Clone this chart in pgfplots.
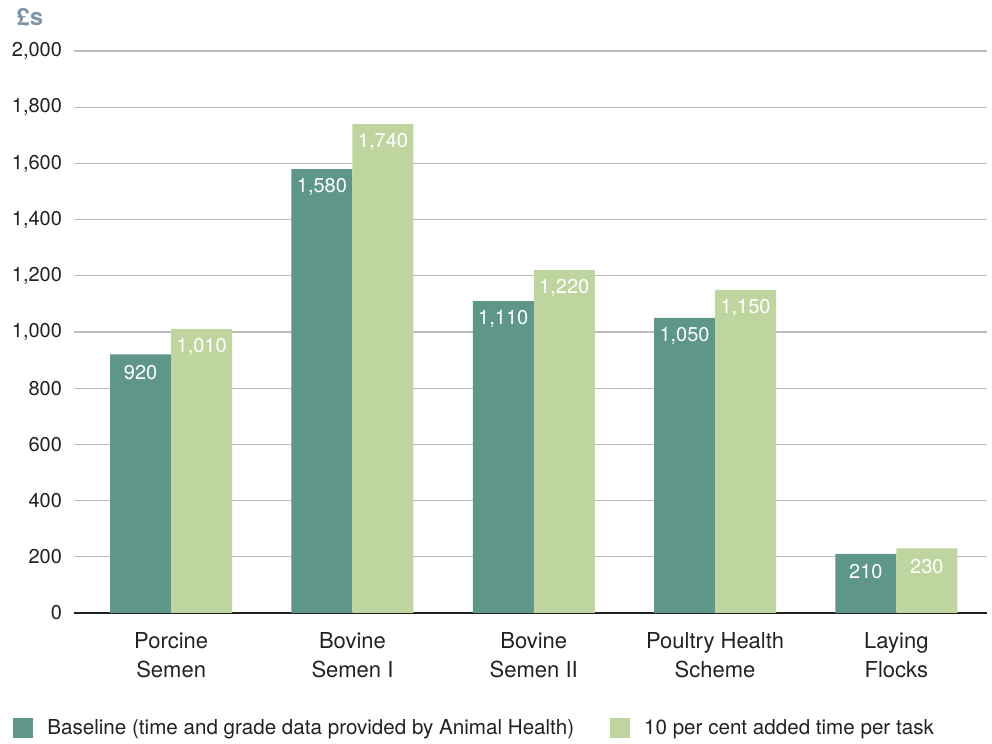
\documentclass[border=0pt]{standalone}
\usepackage{pgfplots}
\pgfplotsset{compat=1.18}
\usepackage{fontspec}
\setmainfont{TeX Gyre Heros}

\definecolor{baseline}{HTML}{5F968A}
\definecolor{added}{HTML}{BED5A0}
\definecolor{gridgray}{HTML}{BDBDBD}
\definecolor{unitblue}{HTML}{7F96AA}
\definecolor{textdark}{HTML}{222222}

\begin{document}
\begin{tikzpicture}
\useasboundingbox (-37pt,-65.5pt) rectangle (459pt,306.5pt);
\begin{axis}[
  scale only axis,
  clip=false,
  width=456.5pt, height=281pt,
  ymin=0, ymax=2000,
  xmin=-0.536, xmax=4.5,
  ytick={0,200,...,2000},
  xtick={0,1,2,3,4},
  xticklabels={Porcine\\Semen, Bovine\\Semen I, Bovine\\Semen II, Poultry Health\\Scheme, Laying\\Flocks},
  xticklabel style={align=center, font=\fontsize{11}{14.5}\selectfont, text=textdark, yshift=-6pt},
  yticklabel style={font=\fontsize{10}{12}\selectfont, text=textdark, xshift=-2.5pt},
  /pgf/number format/assume math mode=true,
  /pgf/number format/.cd, 1000 sep={,}, /pgfplots/.cd,
  scaled y ticks=false,
  major tick length=0pt,
  ymajorgrids,
  grid style={gridgray, line width=0.6pt},
  axis x line*=bottom,
  axis y line*=left,
  y axis line style={draw=none},
  x axis line style={draw=textdark, line width=0.7pt},
  ybar=0pt,
  bar width=30.5pt,
  nodes near coords,
  point meta=y,
  every node near coord/.append style={anchor=center, yshift=-9pt, text=white, font=\fontsize{10}{12}\selectfont},
  legend columns=2,
  legend style={draw=none, fill=none, at={(rel axis cs:0,0)}, anchor=west, xshift=-33.5pt, yshift=-57.5pt,
    font=\fontsize{10.3}{13}\selectfont, text=textdark,
    /tikz/every odd column/.append style={column sep=5pt},
    /tikz/every even column/.append style={column sep=16pt}},
  legend image code/.code={\fill[#1] (0pt,-5pt) rectangle (10pt,5pt);},
]
\addplot[fill=baseline, draw=none] coordinates {(0,920) (1,1580) (2,1110) (3,1050) (4,210)};
\addplot[fill=added, draw=none] coordinates {(0,1010) (1,1740) (2,1220) (3,1150) (4,230)};
\legend{Baseline (time and grade data provided by Animal Health), 10 per cent added time per task}
\node[font=\fontsize{12}{14}\selectfont\bfseries, text=unitblue] at (rel axis cs:0,1) [xshift=-22pt, yshift=17pt] {£s};
\end{axis}
\end{tikzpicture}
\end{document}
